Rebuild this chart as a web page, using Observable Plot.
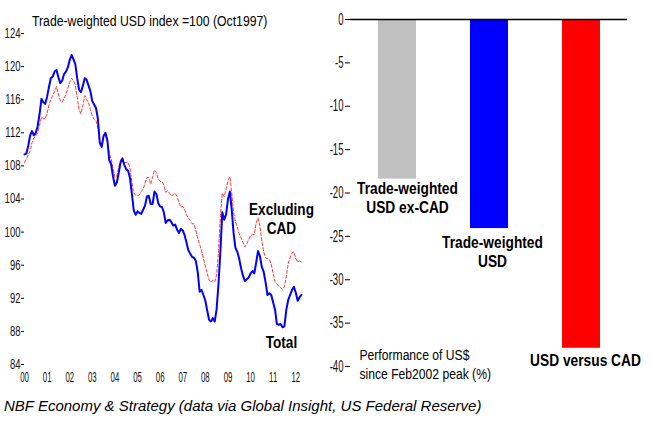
<!DOCTYPE html>
<html><head><meta charset="utf-8">
<script src="https://cdn.jsdelivr.net/npm/d3@7"></script>
<script src="https://cdn.jsdelivr.net/npm/@observablehq/plot@0.6"></script>
<style>
body{margin:0;background:#fff;}
#wrap{position:relative;width:652px;height:427px;overflow:hidden;font-family:"Liberation Sans",Arial,sans-serif;color:#000;}
#left{position:absolute;left:0;top:0;}
#right{position:absolute;left:320px;top:0;}
#title{position:absolute;left:32px;top:12px;font-size:15.5px;white-space:nowrap;transform:scaleX(0.79);transform-origin:0 50%;}
#footer{position:absolute;left:4px;top:397px;font:italic 15px "Liberation Sans",Arial,sans-serif;white-space:nowrap;}
</style>
</head><body>
<div id="wrap">
  <div id="left"></div>
  <div id="right"></div>
  <div id="title">Trade-weighted USD index =100 (Oct1997)</div>
  <div id="footer">NBF Economy &amp; Strategy (data via Global Insight, US Federal Reserve)</div>
</div>
<script>
// ---- data: monthly, starting Jan 2000 ----
const startMonth = "2000-01-01";
const total = [109.4,109.5,110.4,111.7,112.2,111.7,112.0,112.8,114.3,116.1,115.7,115.5,
116.4,117.6,118.6,118.8,119.4,119.6,118.7,118.0,118.3,119.1,119.4,119.9,
120.8,121.4,120.9,120.3,118.6,117.2,116.9,117.7,118.6,118.4,117.7,117.0,
115.8,115.4,115.0,113.7,110.8,110.3,111.6,112.0,111.1,108.7,108.2,106.7,
105.6,106.0,107.1,108.4,108.9,108.1,107.6,107.4,106.5,104.6,102.6,102.1,
102.5,102.3,102.2,102.7,103.2,104.3,104.4,103.4,103.4,104.9,104.6,103.5,
103.1,103.0,102.4,101.1,101.4,101.5,101.2,100.8,100.9,100.3,99.9,100.4,
100.2,99.6,98.8,97.8,97.4,97.0,96.9,96.5,95.1,92.8,93.0,92.4,
91.7,90.5,89.4,89.2,89.6,89.2,90.7,93.8,97.8,102.4,101.5,102.1,
104.0,104.9,102.8,99.9,98.1,97.6,96.8,95.6,94.7,94.1,94.3,94.5,
95.0,95.3,95.0,96.3,97.7,97.1,95.8,95.2,93.9,92.4,92.6,92.4,
91.5,90.6,88.9,88.8,88.9,88.5,88.6,90.6,91.8,92.4,93.0,93.4,
92.7,91.7,92.1,92.4];
const excludingCad = [108.4,108.8,109.3,109.8,110.8,111.4,111.6,112.0,112.9,113.9,113.7,113.7,
114.4,115.4,116.0,116.5,117.0,117.6,116.7,115.9,115.7,116.2,116.6,117.4,
118.1,118.6,118.3,117.8,116.3,114.8,114.3,115.3,116.5,116.0,115.6,114.8,
114.0,113.6,113.5,112.6,110.9,110.6,111.5,111.7,110.9,109.6,108.8,107.8,
106.6,106.8,107.8,108.7,109.0,108.4,108.4,108.4,107.7,106.0,104.7,104.5,
104.4,104.5,104.9,105.2,105.9,106.6,106.6,105.8,106.7,107.5,107.2,106.4,
106.1,106.1,105.7,104.8,105.0,104.7,104.4,104.5,104.7,104.3,103.6,103.0,
103.1,102.7,102.1,101.7,101.4,101.0,101.0,100.2,99.2,98.5,97.8,96.8,
95.9,95.0,94.2,93.9,94.2,94.0,94.8,97.8,102.0,104.7,104.3,105.2,
106.2,106.7,104.8,102.5,101.2,100.6,99.8,99.3,98.7,98.2,98.6,99.1,
99.6,99.7,99.7,101.1,101.7,100.7,99.0,97.6,96.9,96.8,96.7,96.1,
95.0,94.0,93.7,93.5,93.3,93.1,93.4,94.6,96.2,96.9,97.5,97.6,
96.8,96.4,96.5,96.4];
const yTicksLeft = [84,88,92,96,100,104,108,112,116,120,124];
const xTickYears = ["2000","2001","2002","2003","2004","2005","2006","2007","2008","2009","2010","2011","2012"];
const lineLabels = [
  {text:"Excluding\nCAD", date:"2011-05-15", value:101.7},
  {text:"Total", date:"2011-05-15", value:86.7}
];

const barCategories = ["Trade-weighted\nUSD ex-CAD","Trade-weighted\nUSD","USD versus CAD"];
const barValues = [-18.4,-24.1,-37.9];
const barColors = ["#c0c0c0","#0000ff","#ff0000"];
const yTicksRight = [0,-5,-10,-15,-20,-25,-30,-35,-40];
const noteText = "Performance of US$\nsince Feb2002 peak (%)";

// ---- helpers: horizontally condense text to mimic the narrow font ----
const font = '"Liberation Sans",Arial,sans-serif';
function squeezeGroup(g, s) {
  d3.select(g).selectAll("text").each(function() {
    const t = this.getAttribute("transform") || "";
    const x = parseFloat(this.getAttribute("x"));
    if (isFinite(x) && x !== 0) {
      this.setAttribute("transform", `${t} translate(${x},0) scale(${s},1) translate(${-x},0)`);
    } else {
      this.setAttribute("transform", `${t} scale(${s},1)`);
    }
  });
}
function squeeze(svg, label, scales) {
  const groups = svg.querySelectorAll(`g[aria-label="${label}"]`);
  groups.forEach((g, i) => squeezeGroup(g, Array.isArray(scales) ? scales[Math.min(i, scales.length-1)] : scales));
}

// ---- left chart ----
const t0 = new Date(startMonth + "T00:00:00Z");
const rows = total.map((v,i)=>({date:d3.utcMonth.offset(t0,i), total:v, exCad:excludingCad[i]}));
const xTicks = xTickYears.map(y=>new Date(y+"-01-01T00:00:00Z"));

const left = Plot.plot({
  width:330, height:392,
  marginLeft:24, marginRight:14, marginTop:33, marginBottom:28,
  style:{fontFamily:font, fontSize:"14px", color:"#111", background:"transparent", overflow:"visible"},
  x:{type:"utc", domain:[t0, new Date("2012-12-01T00:00:00Z")]},
  y:{domain:[84,124]},
  marks:[
    Plot.axisY({ticks:yTicksLeft, tickSize:3, tickPadding:1, line:true, label:null, stroke:"#000", strokeOpacity:1, fontSize:14}),
    Plot.axisX({ticks:xTicks, tickFormat:d3.utcFormat("%y"), tickSize:0, tickPadding:8, line:true, label:null, stroke:"#000", strokeOpacity:1, fontSize:14}),
    Plot.line(rows, {x:"date", y:"exCad", stroke:"#ff3838", strokeWidth:1, strokeDasharray:"3,2"}),
    Plot.line(rows, {x:"date", y:"total", stroke:"#0000ff", strokeWidth:2}),
    Plot.text(lineLabels, {x:d=>new Date(d.date+"T00:00:00Z"), y:"value", text:"text", fontSize:16, fontWeight:"bold", lineHeight:1.22, fill:"#000"})
  ]
});
squeeze(left, "y-axis tick label", 0.68);
squeeze(left, "x-axis tick label", 0.56);
squeeze(left, "text", 0.85);
document.getElementById("left").appendChild(left);

// ---- right chart ----
const bars = barCategories.map((c,i)=>({cat:c, value:barValues[i], color:barColors[i]}));
const right = Plot.plot({
  width:332, height:400,
  marginLeft:30, marginRight:25, marginTop:19, marginBottom:34,
  style:{fontFamily:font, fontSize:"16px", color:"#111", background:"transparent", overflow:"visible"},
  x:{domain:barCategories, paddingInner:0.59, paddingOuter:0.295, axis:null},
  y:{domain:[-40,0]},
  marks:[
    Plot.barY(bars, {x:"cat", y:"value", fill:"color"}),
    Plot.ruleY([0], {stroke:"#000", strokeWidth:1.5}),
    Plot.axisY({ticks:yTicksRight, tickFormat:d=>String(d), tickSize:5, tickPadding:2, line:true, label:null, stroke:"#000", strokeOpacity:1, fontSize:16}),
    Plot.text(bars.slice(0,1), {x:"cat", y:"value", text:"cat", dx:10, dy:1, lineAnchor:"top", fontSize:16, fontWeight:"bold", lineHeight:1.2, fill:"#000"}),
    Plot.text(bars.slice(1,2), {x:"cat", y:"value", text:"cat", dx:3, dy:6, lineAnchor:"top", fontSize:16, fontWeight:"bold", lineHeight:1.2, fill:"#000"}),
    Plot.text(bars.slice(2,3), {x:"cat", y:"value", text:"cat", dx:4, dy:4, lineAnchor:"top", fontSize:16, fontWeight:"bold", lineHeight:1.2, fill:"#000"}),
    Plot.text([noteText], {frameAnchor:"bottom-left", text:d=>d, dx:9, dy:-3.5, textAnchor:"start", lineAnchor:"middle", fontSize:15, lineHeight:1.27, fill:"#000"})
  ]
});
squeeze(right, "y-axis tick label", 0.6);
squeeze(right, "text", [0.86, 0.86, 0.86, 0.81]);
document.getElementById("right").appendChild(right);
</script>
</body></html>
